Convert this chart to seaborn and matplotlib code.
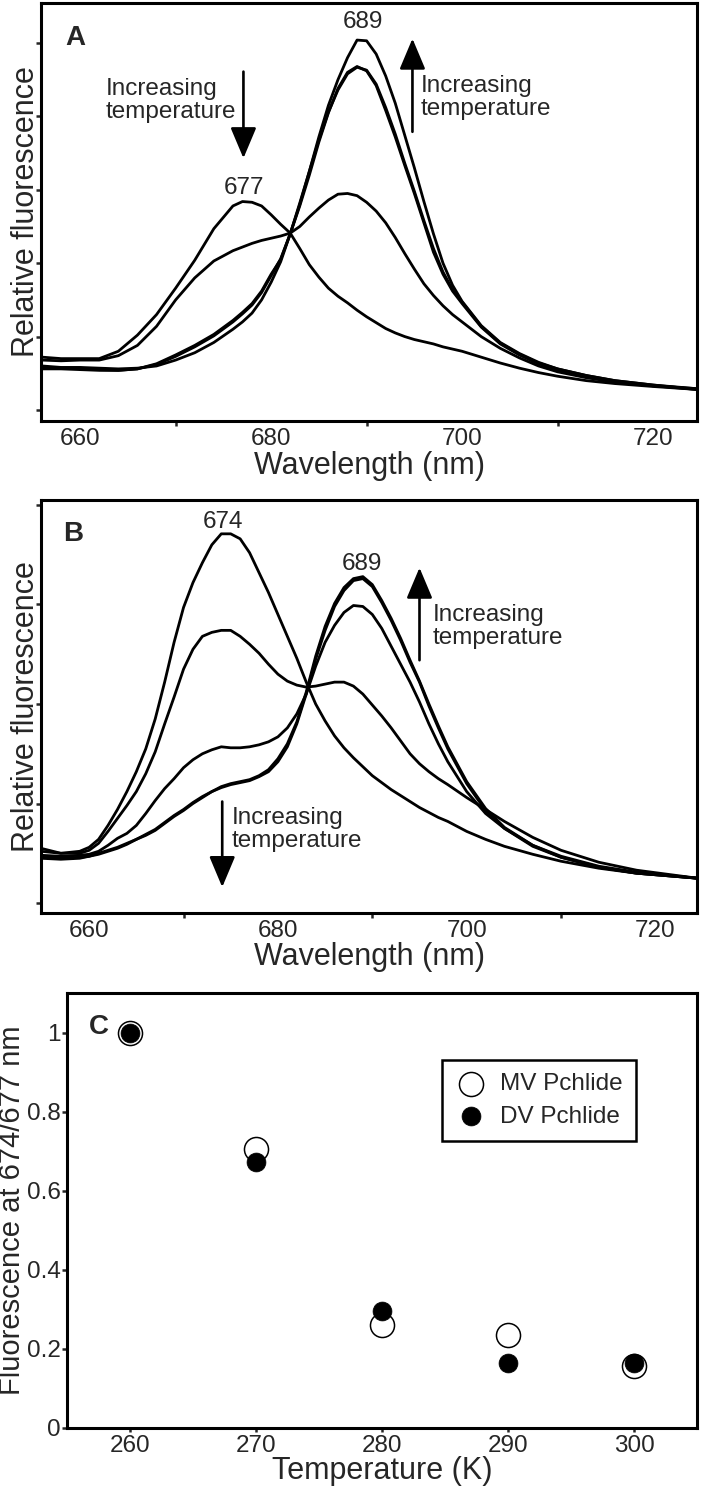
import matplotlib
matplotlib.use("Agg")
import matplotlib.pyplot as plt
import seaborn as sns
import pandas as pd

sns.set_style("ticks")
plt.rcParams["font.family"] = ["Liberation Sans", "DejaVu Sans"]

# --- panel A: MV Pchlide spectra (5 temperatures) ---
wl_a = [656, 658, 660, 662, 664, 666, 668, 670, 672, 674, 676,
        677, 678, 679, 680, 681, 682, 683, 684, 685, 686, 687, 688, 689,
        690, 691, 692, 693, 694, 695, 696, 697, 698, 699, 700,
        702, 704, 706, 708, 710, 713, 716, 720, 724.6]
a_1 = [0.72, 0.70, 0.70, 0.70, 0.80, 1.02, 1.30, 1.66, 2.04, 2.47, 2.78,
       2.84, 2.83, 2.78, 2.66, 2.53, 2.41, 2.20, 1.98, 1.81, 1.66, 1.55, 1.46, 1.36,
       1.27, 1.19, 1.11, 1.05, 1.00, 0.96, 0.93, 0.90, 0.86, 0.83, 0.80,
       0.72, 0.64, 0.57, 0.51, 0.46, 0.40, 0.36, 0.32, 0.28]
a_2 = [0.68, 0.67, 0.68, 0.68, 0.74, 0.88, 1.14, 1.50, 1.80, 2.03, 2.17,
       2.22, 2.27, 2.31, 2.34, 2.37, 2.41, 2.50, 2.63, 2.75, 2.86, 2.94, 2.95, 2.92,
       2.83, 2.71, 2.55, 2.35, 2.13, 1.92, 1.72, 1.56, 1.42, 1.30, 1.20,
       1.00, 0.84, 0.71, 0.60, 0.52, 0.44, 0.38, 0.33, 0.29]
a_3 = [0.56, 0.56, 0.55, 0.54, 0.54, 0.56, 0.62, 0.73, 0.86, 1.01, 1.20,
       1.31, 1.43, 1.60, 1.83, 2.06, 2.40, 2.78, 3.20, 3.65, 4.05, 4.38, 4.60, 4.68,
       4.62, 4.42, 4.08, 3.72, 3.33, 2.95, 2.55, 2.15, 1.85, 1.62, 1.45,
       1.13, 0.90, 0.75, 0.63, 0.55, 0.46, 0.39, 0.33, 0.28]
a_4 = [0.60, 0.58, 0.58, 0.57, 0.56, 0.57, 0.60, 0.68, 0.78, 0.92, 1.10,
       1.20, 1.32, 1.50, 1.74, 2.02, 2.40, 2.82, 3.25, 3.68, 4.06, 4.36, 4.58, 4.67,
       4.63, 4.44, 4.12, 3.76, 3.36, 2.98, 2.58, 2.20, 1.88, 1.64, 1.47,
       1.14, 0.91, 0.76, 0.64, 0.56, 0.47, 0.40, 0.34, 0.29]
a_5 = [0.58, 0.57, 0.57, 0.55, 0.54, 0.56, 0.63, 0.75, 0.88, 1.03, 1.22,
       1.33, 1.45, 1.62, 1.85, 2.05, 2.40, 2.80, 3.25, 3.72, 4.15, 4.50, 4.80, 5.04,
       5.03, 4.85, 4.55, 4.18, 3.74, 3.30, 2.84, 2.40, 2.00, 1.70, 1.48,
       1.15, 0.92, 0.77, 0.65, 0.56, 0.47, 0.40, 0.34, 0.28]

# --- panel B: DV Pchlide spectra ---
wl_b = [654.9, 657, 659,
        660, 661, 662, 663, 664, 665, 666, 667, 668, 669,
        670, 671, 672, 673, 674, 675, 676, 677, 678, 679,
        680, 681, 682, 683, 684, 685, 686, 687, 688, 689,
        690, 691, 692, 693, 694, 695, 696, 697, 698,
        700, 702, 704, 707, 710, 714, 718, 724.4]
b_1 = [0.55, 0.50, 0.52,
       0.56, 0.64, 0.78, 0.94, 1.12, 1.32, 1.55, 1.85, 2.22, 2.62,
       2.97, 3.22, 3.42, 3.60, 3.71, 3.71, 3.66, 3.52, 3.32, 3.12,
       2.90, 2.68, 2.46, 2.22, 2.00, 1.83, 1.68, 1.56, 1.46, 1.37,
       1.28, 1.21, 1.14, 1.08, 1.02, 0.96, 0.91, 0.86, 0.82,
       0.72, 0.64, 0.57, 0.49, 0.42, 0.35, 0.30, 0.25]
b_2 = [0.52, 0.50, 0.50,
       0.53, 0.60, 0.72, 0.85, 0.98, 1.12, 1.30, 1.52, 1.80, 2.07,
       2.35, 2.55, 2.68, 2.72, 2.74, 2.74, 2.68, 2.60, 2.51, 2.40,
       2.30, 2.23, 2.19, 2.17, 2.18, 2.20, 2.22, 2.22, 2.18, 2.10,
       1.99, 1.88, 1.76, 1.63, 1.50, 1.40, 1.32, 1.25, 1.19,
       1.06, 0.94, 0.82, 0.66, 0.53, 0.41, 0.33, 0.25]
b_3 = [0.48, 0.47, 0.48,
       0.49, 0.52, 0.58, 0.65, 0.70, 0.78, 0.90, 1.03, 1.15, 1.25,
       1.36, 1.44, 1.50, 1.54, 1.57, 1.56, 1.56, 1.57, 1.59, 1.62,
       1.67, 1.76, 1.90, 2.10, 2.38, 2.62, 2.79, 2.92, 2.99, 2.98,
       2.90, 2.76, 2.58, 2.40, 2.22, 2.02, 1.80, 1.60, 1.42,
       1.12, 0.90, 0.75, 0.58, 0.47, 0.37, 0.31, 0.25]
b_4 = [0.45, 0.44, 0.45,
       0.47, 0.49, 0.52, 0.55, 0.59, 0.64, 0.68, 0.73, 0.80, 0.87,
       0.93, 1.00, 1.06, 1.12, 1.16, 1.19, 1.21, 1.23, 1.27, 1.32,
       1.42, 1.57, 1.80, 2.10, 2.45, 2.74, 2.98, 3.14, 3.24, 3.26,
       3.18, 3.02, 2.84, 2.64, 2.42, 2.22, 1.98, 1.76, 1.55,
       1.20, 0.93, 0.75, 0.57, 0.46, 0.36, 0.30, 0.25]
b_5 = [0.46, 0.45, 0.46,
       0.47, 0.50, 0.53, 0.56, 0.60, 0.64, 0.69, 0.74, 0.81, 0.88,
       0.94, 1.01, 1.07, 1.12, 1.17, 1.20, 1.22, 1.24, 1.28, 1.34,
       1.45, 1.60, 1.82, 2.12, 2.48, 2.78, 3.01, 3.17, 3.26, 3.28,
       3.20, 3.04, 2.86, 2.66, 2.44, 2.23, 2.00, 1.78, 1.57,
       1.22, 0.95, 0.76, 0.58, 0.46, 0.36, 0.30, 0.25]

# --- panel C: fluorescence at 674/677 nm vs temperature ---
temps = [260, 270, 280, 290, 300]
mv_pchlide = [1.0, 0.705, 0.26, 0.235, 0.158]
dv_pchlide = [1.0, 0.672, 0.297, 0.165, 0.165]


def spectra_frame(wl, curves):
    parts = [pd.DataFrame({"wl": wl, "val": c, "curve": i}) for i, c in enumerate(curves)]
    return pd.concat(parts, ignore_index=True)


def style_box(ax):
    for s in ax.spines.values():
        s.set_visible(True)
        s.set_linewidth(2.2)
        s.set_color("k")


def style_spectrum(ax, xlim, ylim, yticks, ylab_x, xlab_y):
    ax.set_xlim(xlim)
    ax.set_ylim(ylim)
    ax.set_xticks([660, 680, 700, 720])
    ax.set_xticks([670, 690, 710], minor=True)
    ax.set_yticks(yticks)
    ax.set_yticklabels([])
    ax.tick_params(axis="x", which="major", length=0, pad=5, labelsize=17.5)
    ax.tick_params(axis="x", which="minor", length=3.5, width=1.8, direction="out")
    ax.tick_params(axis="y", length=3.5, width=1.8, direction="out")
    style_box(ax)
    ax.set_xlabel("Wavelength (nm)", fontsize=22)
    ax.set_ylabel("Relative fluorescence", fontsize=22)
    ax.xaxis.set_label_coords(0.5, xlab_y)
    ax.xaxis.label.set_va("center")
    ax.yaxis.set_label_coords(ylab_x, 0.5)
    ax.yaxis.label.set_va("center")


def arrow(ax, x, y_from, y_to):
    ax.annotate("", xy=(x, y_to), xytext=(x, y_from),
                arrowprops=dict(arrowstyle="-|>,head_length=19,head_width=8",
                                mutation_scale=1, lw=1.9, color="k",
                                shrinkA=0, shrinkB=0))


W, H = 702, 1508
fig = plt.figure(figsize=(W / 100, H / 100), dpi=100)
ax_a = fig.add_axes([41 / W, 1 - 421 / H, 656 / W, 418 / H])
ax_b = fig.add_axes([41 / W, 1 - 913 / H, 656 / W, 413 / H])
ax_c = fig.add_axes([67 / W, 1 - 1428 / H, 630 / W, 435 / H])

txt = dict(fontsize=17.5, ha="left", va="center", linespacing=1.05)

# panel A
sns.lineplot(data=spectra_frame(wl_a, [a_1, a_2, a_3, a_4, a_5]), x="wl", y="val",
             units="curve", estimator=None, color="k", lw=2.0, legend=False, ax=ax_a)
style_spectrum(ax_a, (655.9, 724.6), (-0.15, 5.545), range(6), -0.0229, -0.1077)
ax_a.text(0.052, 0.917, "A", transform=ax_a.transAxes, fontsize=20,
          fontweight="bold", ha="center", va="center")
ax_a.text(677.2, 3.02, "677", fontsize=17.5, ha="center", va="center")
ax_a.text(689.6, 5.29, "689", fontsize=17.5, ha="center", va="center")
arrow(ax_a, 677.1, 4.61, 3.43)
arrow(ax_a, 694.8, 3.79, 5.06)
ax_a.text(662.7, 4.22, "Increasing\ntemperature", **txt)
ax_a.text(695.7, 4.26, "Increasing\ntemperature", **txt)

# panel B
sns.lineplot(data=spectra_frame(wl_b, [b_1, b_2, b_3, b_4, b_5]), x="wl", y="val",
             units="curve", estimator=None, color="k", lw=2.0, legend=False, ax=ax_b)
style_spectrum(ax_b, (654.9, 724.4), (-0.10, 4.05), range(5), -0.0229, -0.106)
ax_b.text(0.049, 0.918, "B", transform=ax_b.transAxes, fontsize=20,
          fontweight="bold", ha="center", va="center")
ax_b.text(674.2, 3.83, "674", fontsize=17.5, ha="center", va="center")
ax_b.text(688.9, 3.41, "689", fontsize=17.5, ha="center", va="center")
arrow(ax_b, 695.0, 2.44, 3.37)
arrow(ax_b, 674.1, 1.02, 0.16)
ax_b.text(696.4, 2.78, "Increasing\ntemperature", **txt)
ax_b.text(675.1, 0.74, "Increasing\ntemperature", **txt)

# panel C
sns.scatterplot(x=temps, y=mv_pchlide, s=300, color="white", edgecolor="k",
                linewidth=1.1, label="MV Pchlide", zorder=3, ax=ax_c)
sns.scatterplot(x=temps, y=dv_pchlide, s=185, color="k", edgecolor="k",
                linewidth=0.5, label="DV Pchlide", zorder=4, ax=ax_c)
ax_c.set_xlim(255, 305)
ax_c.set_ylim(0, 1.1)
ax_c.set_xticks(temps)
ax_c.set_yticks([0, 0.2, 0.4, 0.6, 0.8, 1.0])
ax_c.set_yticklabels(["0", "0.2", "0.4", "0.6", "0.8", "1"])
ax_c.tick_params(axis="y", length=3.5, width=1.8, pad=1, labelsize=17.5)
ax_c.tick_params(axis="x", length=3, width=1.8, pad=2, labelsize=17.5)
style_box(ax_c)
ax_c.set_xlabel("Temperature (K)", fontsize=22)
ax_c.set_ylabel("Fluorescence at 674/677 nm", fontsize=21)
ax_c.xaxis.set_label_coords(0.5, -0.1)
ax_c.xaxis.label.set_va("center")
ax_c.yaxis.set_label_coords(-0.0873, 0.5)
ax_c.yaxis.label.set_va("center")
ax_c.text(0.051, 0.922, "C", transform=ax_c.transAxes, fontsize=20,
          fontweight="bold", ha="center", va="center")
leg = ax_c.legend(loc="upper left", bbox_to_anchor=(0.595, 0.846), borderaxespad=0,
                  frameon=True, fancybox=False, edgecolor="k", framealpha=1,
                  fontsize=17.5, handlelength=1.3, handletextpad=0.55,
                  labelspacing=0.42, borderpad=0.55)
leg.get_frame().set_linewidth(1.8)

fig.savefig("out.png", dpi=100)
